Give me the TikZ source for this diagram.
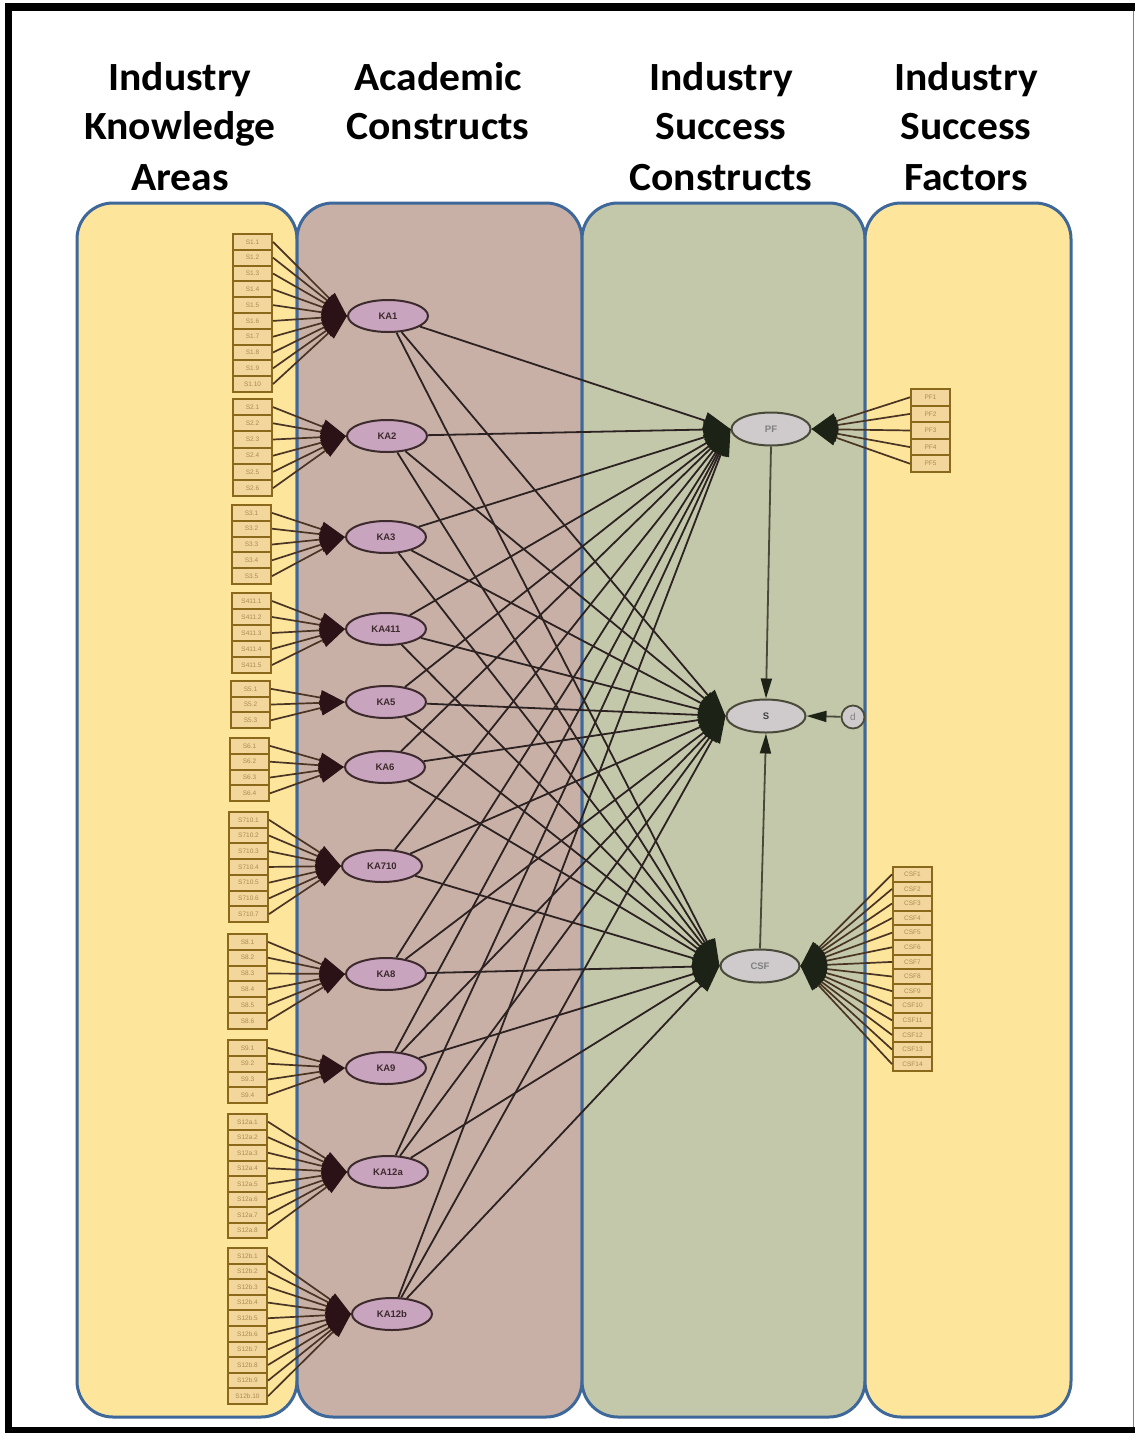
\documentclass[tikz,border=0pt]{standalone}
\usepackage{fontspec}
\setmainfont{Carlito}
\newfontfamily\labfont{Liberation Sans}
\usetikzlibrary{arrows.meta,shapes.geometric}
\definecolor{panelY}{HTML}{FDE59B}
\definecolor{panelP}{HTML}{C8B0A6}
\definecolor{panelG}{HTML}{C3C8AA}
\definecolor{panelB}{HTML}{3E6899}
\definecolor{indF}{HTML}{F3D69C}
\definecolor{indD}{HTML}{8A6A1A}
\definecolor{indT}{HTML}{A88C50}
\definecolor{kaF}{HTML}{C9A4BE}
\definecolor{kaD}{HTML}{3C2A2C}
\definecolor{lineL}{HTML}{4A3424}
\definecolor{tipL}{HTML}{2A1216}
\definecolor{lineR}{HTML}{2C2222}
\definecolor{tipR}{HTML}{1C2316}
\definecolor{isF}{HTML}{CFCACB}
\definecolor{isD}{HTML}{4A4A3A}
\newcommand\indgroup[6]{%
  \foreach \i in {1,...,#2}{%
    \node[indbox,minimum height=#4pt,anchor=north west] (#5-\i) at (#6,{#3+(\i-1)*#4}) {#1\i};
    \draw[indline] (#5-\i.east) -- (#5.west);
  }}
\begin{document}
\begin{tikzpicture}[x=1pt,y=-1pt,
  panel/.style={draw=panelB,line width=3pt,rounded corners=36pt},
  title/.style={font=\bfseries\fontsize{40}{50}\selectfont,anchor=base,inner sep=0pt,xscale=1.04,transform shape},
  indbox/.style={draw=indD,fill=indF,line width=2pt,minimum width=39pt,inner sep=0pt,font=\labfont\fontsize{6.5}{6.5}\selectfont,text=indT},
  indline/.style={lineL,line width=1.7pt,-{Triangle[length=25pt,width=15pt,color=tipL]}},
  kanode/.style={ellipse,draw=kaD,fill=kaF,line width=2pt,minimum width=80pt,minimum height=32pt,inner sep=0pt,font=\labfont\bfseries\fontsize{9.5}{9.5}\selectfont,text=kaD},
  isnode/.style={ellipse,draw=isD,fill=isF,line width=2pt,minimum width=79pt,minimum height=33pt,inner sep=0pt,font=\labfont\bfseries\fontsize{9.5}{9.5}\selectfont,text=gray},
  structline/.style={lineR,line width=1.8pt,-{Triangle[length=27pt,width=17pt,color=tipR]}},
  rindline/.style={lineL,line width=1.7pt,-{Triangle[length=26pt,width=16pt,color=tipR]}},
  smallarrow/.style={isD,line width=1.8pt,-{Triangle[length=20pt,width=11pt,color=tipR]}}
]
\useasboundingbox (0,0) rectangle (1135,1433);
\fill[white] (0,0) rectangle (1135,1433);
% frame
\fill[black] (5,3) rectangle (1135,11);
\fill[black] (5,3) rectangle (12,1433);
\fill[black] (5,1427) rectangle (1135,1433);
\draw[gray,line width=1pt] (1133,11) -- (1133,1427);
% titles
\node[title] (t1a) at (180,90) {Industry};
\node[title] (t1b) at (180,139) {Knowledge};
\node[title] (t1c) at (180,190) {Areas};
\node[title] (t2a) at (438,90) {Academic};
\node[title] (t2b) at (438,139) {Constructs};
\node[title] (t3a) at (721,90) {Industry};
\node[title] (t3b) at (721,139) {Success};
\node[title] (t3c) at (721,190) {Constructs};
\node[title] (t4a) at (966,90) {Industry};
\node[title] (t4b) at (966,139) {Success};
\node[title] (t4c) at (966,190) {Factors};
% panels
\draw[panel,fill=panelY] (77,203) rectangle (297,1417);
\draw[panel,fill=panelP] (297,203) rectangle (582,1417);
\draw[panel,fill=panelG] (582,203) rectangle (865,1417);
\draw[panel,fill=panelY] (865,203) rectangle (1071,1417);
% academic constructs
\node[kanode] (KA1) at (388,316) {KA1};
\node[kanode] (KA2) at (387,436) {KA2};
\node[kanode] (KA3) at (386,537) {KA3};
\node[kanode] (KA411) at (386,629) {KA411};
\node[kanode] (KA5) at (386,702) {KA5};
\node[kanode] (KA6) at (385,767) {KA6};
\node[kanode] (KA710) at (382,866) {KA710};
\node[kanode] (KA8) at (386,974) {KA8};
\node[kanode] (KA9) at (386,1068) {KA9};
\node[kanode] (KA12a) at (388,1172) {KA12a};
\node[kanode] (KA12b) at (392,1314) {KA12b};
% industry success constructs
\node[isnode] (PF) at (771,429) {PF};
\node[isnode,text=black!75] (S) at (766,716) {S};
\node[isnode] (CSF) at (760,966) {CSF};
\node[circle,draw=isD,fill=isF,line width=1.8pt,minimum size=23pt,inner sep=0pt,font=\labfont\fontsize{10}{10}\selectfont,text=gray] (d) at (853,717) {d};
% indicators of knowledge areas
\indgroup{S1.}{10}{233}{15.8}{KA1}{232}
\indgroup{S2.}{6}{398}{16.2}{KA2}{232}
\indgroup{S3.}{5}{504}{15.8}{KA3}{231}
\indgroup{S411.}{5}{592}{16}{KA411}{231}
\indgroup{S5.}{3}{680}{15.7}{KA5}{230}
\indgroup{S6.}{4}{737}{15.8}{KA6}{229}
\indgroup{S710.}{7}{811}{15.7}{KA710}{228}
\indgroup{S8.}{6}{933}{15.8}{KA8}{227}
\indgroup{S9.}{4}{1039}{15.8}{KA9}{227}
\indgroup{S12a.}{8}{1113}{15.5}{KA12a}{227}
\indgroup{S12b.}{10}{1247}{15.6}{KA12b}{227}
% structural paths
\foreach \k in {KA1,KA2,KA3,KA411,KA5,KA6,KA710,KA8,KA9,KA12a,KA12b}{
  \foreach \t in {PF,S,CSF}{
    \draw[structline] (\k) -- (\t.west);
  }
}
% indicators of success factors
\foreach \i in {1,...,5}{
  \node[indbox,minimum height=16.6pt,anchor=north west] (PF-\i) at (910,{388+(\i-1)*16.6}) {PF\i};
  \draw[rindline] (PF-\i.west) -- (PF.east);
}
\foreach \i in {1,...,14}{
  \node[indbox,minimum height=14.6pt,anchor=north west] (CSF-\i) at (892,{866+(\i-1)*14.6}) {CSF\i};
  \draw[rindline] (CSF-\i.west) -- (CSF.east);
}
% paths into S
\draw[smallarrow] (PF.south) -- (S.north);
\draw[smallarrow] (CSF.north) -- (S.south);
\draw[smallarrow] (d) -- (S.east);
\end{tikzpicture}
\end{document}
